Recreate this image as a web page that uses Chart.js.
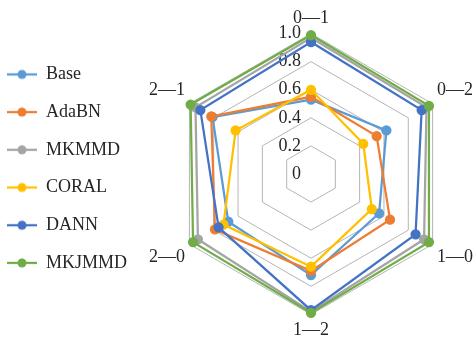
<!DOCTYPE html>
<html>
<head>
<meta charset="utf-8">
<script src="https://cdn.jsdelivr.net/npm/chart.js@4"></script>
<style>
html,body{margin:0;padding:0;background:#fff;overflow:hidden;}
#wrap{width:486px;height:342px;}
</style>
</head>
<body>
<div id="wrap"><canvas id="radar"></canvas></div>
<script>

// ================= DATA =================

const categories = ["0\u20141","0\u20142","1\u20140","1\u20142","2\u20140","2\u20141"];

const base   = [0.53,0.62,0.56,0.72,0.68,0.81];
const adabn  = [0.55,0.54,0.65,0.69,0.79,0.82];
const mkmmd  = [0.97,0.95,0.93,0.98,0.93,0.95];
const coral  = [0.60,0.43,0.50,0.66,0.72,0.62];
const dann   = [0.94,0.91,0.86,0.97,0.76,0.91];
const mkjmmd = [0.99,0.97,0.97,0.99,0.97,0.99];

const tickValues = [0,0.2,0.4,0.6,0.8,1.0];
const tickLabels = ["0","0.2","0.4","0.6","0.8","1.0"];

// ================= STYLE =================

const FONT = "'Liberation Serif','Times New Roman',serif";
const TEXT = "#262626";
const GRID = "#b4b4b4";

function series(label,data,color,order){
return {
label:label,
data:data,
borderColor:color,
backgroundColor:color,
pointBackgroundColor:color,
pointBorderColor:color,
borderWidth:2.25,
pointRadius:4,
pointHoverRadius:4,
fill:false,
order:order
};
}

// legend marker: short line with a dot
function marker(color){
const c=document.createElement("canvas");
c.width=30; c.height=12;
const g=c.getContext("2d");
g.strokeStyle=color; g.lineWidth=2.25;
g.beginPath(); g.moveTo(0,6); g.lineTo(30,6); g.stroke();
g.fillStyle=color;
g.beginPath(); g.arc(15,6,4.5,0,Math.PI*2); g.fill();
return c;
}

// tick labels drawn left of the vertical axis, using the scale
const tickPlugin={
id:"tickLabels",
beforeDatasetsDraw(chart){
const s=chart.scales.r;
const ctx=chart.ctx;
ctx.save();
ctx.font="18px "+FONT;
ctx.fillStyle=TEXT;
ctx.textAlign="right";
ctx.textBaseline="middle";
tickValues.forEach((v,i)=>{
const d=s.getDistanceFromCenterForValue(v);
ctx.fillText(tickLabels[i],s.xCenter-10,s.yCenter-d);
});
ctx.restore();
}
};

// ================= CHART =================

new Chart(document.getElementById("radar"),{

type:"radar",

data:{
labels:categories,
datasets:[
series("Base",base,"#5B9BD5",5),
series("AdaBN",adabn,"#ED7D31",4),
series("MKMMD",mkmmd,"#A5A5A5",3),
series("CORAL",coral,"#FFC000",2),
series("DANN",dann,"#4472C4",1),
series("MKJMMD",mkjmmd,"#70AD47",0)
]
},

options:{
responsive:true,
maintainAspectRatio:false,
animation:false,
layout:{padding:{top:8,right:0,bottom:0,left:0}},
plugins:{
legend:{
position:"left",
labels:{
usePointStyle:true,
pointStyleWidth:30,
padding:7,
color:TEXT,
font:{family:FONT,size:18,lineHeight:"30.7px"},
generateLabels(chart){
return chart.data.datasets.map((ds,i)=>({
text:[ds.label],
fillStyle:ds.borderColor,
strokeStyle:ds.borderColor,
lineWidth:0,
pointStyle:marker(ds.borderColor),
fontColor:TEXT,
hidden:!chart.isDatasetVisible(i),
datasetIndex:i
}));
}
}
},
tooltip:{enabled:false}
},
scales:{
r:{
min:0,
max:1,
ticks:{display:false,stepSize:0.2},
grid:{color:GRID,lineWidth:1},
angleLines:{display:false},
pointLabels:{
color:TEXT,
padding:5,
font:{family:FONT,size:18}
}
}
}
},

plugins:[tickPlugin]

});

</script>
</body>
</html>
